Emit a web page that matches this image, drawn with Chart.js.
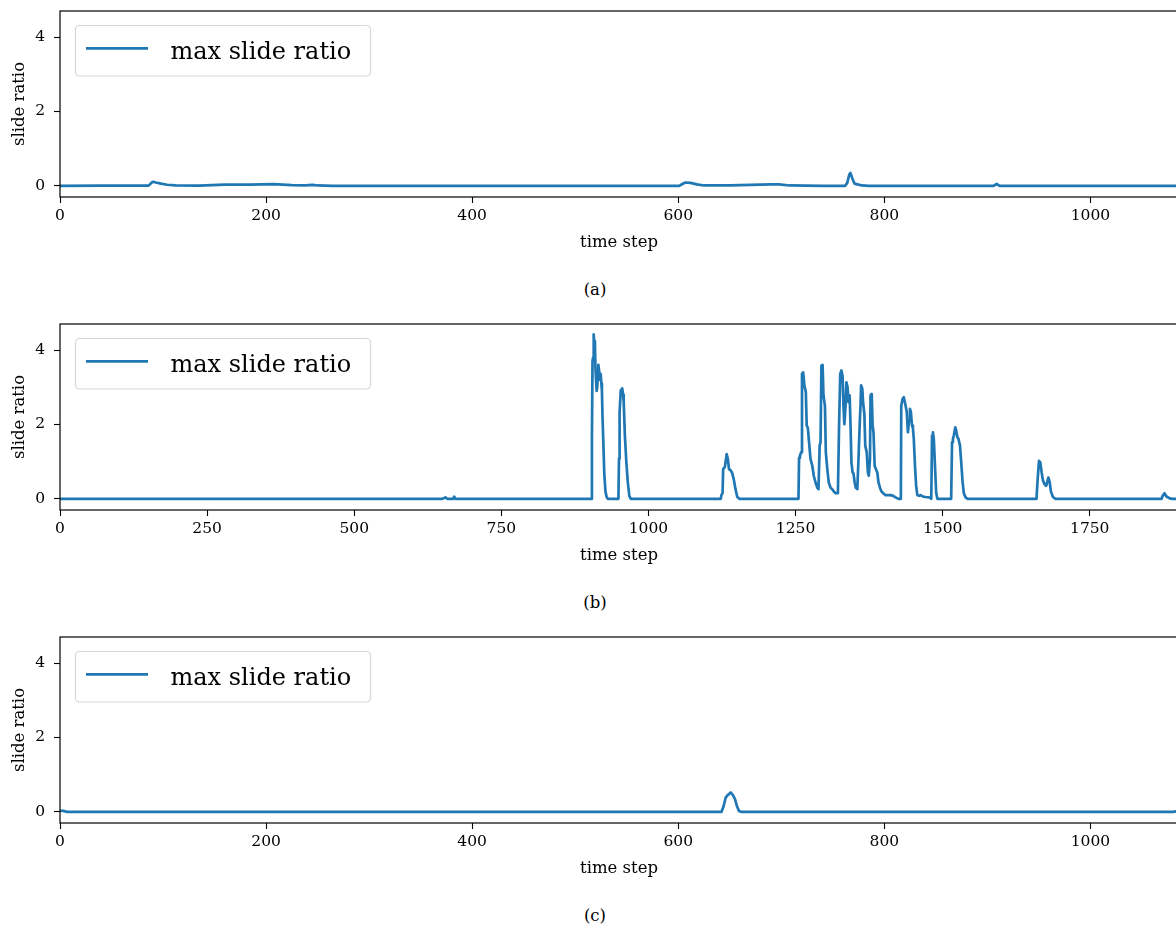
<!DOCTYPE html>
<html>
<head>
<meta charset="utf-8">
<script src="https://cdn.jsdelivr.net/npm/chart.js@4.4.1/dist/chart.umd.min.js"></script>
<style>
  html, body { margin: 0; padding: 0; background: #fff; }
  body { width: 1176px; height: 927px; overflow: hidden; position: relative; }
  canvas { position: absolute; left: 0; }
  .caption {
    position: absolute; width: 40px; text-align: center;
    font-family: "DejaVu Serif", serif; font-size: 16.5px; line-height: 20px; color: #000;
  }
</style>
</head>
<body>
<canvas id="panelA" width="1180" height="262" style="top:0px"></canvas>
<div class="caption" style="left:575px;top:280px">(a)</div>
<canvas id="panelB" width="1180" height="262" style="top:313px"></canvas>
<div class="caption" style="left:575px;top:593px">(b)</div>
<canvas id="panelC" width="1180" height="262" style="top:626px"></canvas>
<div class="caption" style="left:575px;top:906px">(c)</div>

<script>
// run (a)
const stepsA = [0, 40, 86, 88, 90, 93, 98, 104, 112, 135, 160, 185, 207, 225, 238, 245, 250, 265,
  601, 604, 607, 612, 618, 625, 650, 690, 698, 708, 740, 762, 764, 766, 767, 769, 771, 774, 778, 785,
  906, 909, 912, 1085];
const ratioA = [0, 0.005, 0.005, 0.06, 0.11, 0.09, 0.06, 0.03, 0.01, 0.005, 0.03, 0.03, 0.045, 0.02, 0.01, 0.025, 0.01, 0,
  0, 0.05, 0.09, 0.08, 0.04, 0.01, 0.015, 0.04, 0.04, 0.01, 0, 0, 0.08, 0.3, 0.35, 0.2, 0.06, 0.04, 0.01, 0,
  0, 0.05, 0, 0];

// run (b)
const stepsB = [0, 650, 655, 658, 668, 670, 672,
  903, 904, 905, 906, 907, 908, 909, 910, 912, 913, 915, 916, 918, 919, 920, 921, 922, 924, 925, 927, 929, 931,
  949, 950, 951, 953, 955.5, 957, 958, 960, 962.5, 965, 967.5, 970,
  1123, 1124, 1126, 1127, 1130, 1133, 1135, 1137, 1139.5, 1142, 1145, 1148, 1151, 1155,
  1255, 1256, 1257.5, 1259.5, 1261, 1263, 1265, 1267.5, 1269, 1271, 1273, 1275.5, 1278.5, 1281, 1284, 1287, 1289,
  1291, 1292.5, 1294, 1296, 1297.5, 1300, 1301.5, 1304, 1306.5, 1309.5, 1312.5, 1315, 1318, 1322,
  1324, 1326, 1328, 1330, 1331.5, 1333, 1335, 1336.5, 1338.5, 1340, 1342, 1343.5, 1345, 1347, 1348.5, 1350.5, 1352.5, 1355,
  1357, 1359, 1360.5, 1361.5, 1363.5, 1365, 1367, 1368.5, 1371, 1373, 1374.5,
  1376.5, 1377.5, 1379.5, 1381, 1382.5, 1384.5, 1386.5, 1389, 1391, 1393.5, 1396, 1399, 1403, 1407, 1411.5, 1416, 1420, 1425,
  1429, 1429.7, 1432, 1434, 1436.5, 1439, 1441, 1443, 1444.5, 1446, 1448, 1449.5, 1451, 1453, 1455, 1457,
  1460, 1462.5, 1467, 1471, 1477, 1479.5, 1480.7, 1482, 1483.5, 1485, 1487, 1489, 1491,
  1514.5, 1516, 1517.5, 1519, 1521.5, 1523, 1525, 1527, 1529.5, 1532, 1534, 1536, 1539, 1542,
  1659.5, 1661.5, 1663.8, 1666, 1668.3, 1670.6, 1673, 1676, 1679.7, 1682, 1684, 1687.5, 1692,
  1872, 1874, 1877, 1880, 1885, 1890, 1900];
const ratioB = [0, 0, 0.04, 0, 0, 0.06, 0,
  0, 1.65, 3.7, 3.8, 4.42, 4.1, 4.25, 3.5, 2.9, 3.0, 3.6, 3.6, 3.2, 3.35, 3.1, 2.9, 2.2, 1.2, 0.67, 0.2, 0.05, 0,
  0, 1.08, 2.33, 2.91, 2.97, 2.8, 2.6, 1.7, 0.98, 0.44, 0.08, 0,
  0, 0.1, 0.15, 0.8, 0.86, 1.2, 1.07, 0.8, 0.77, 0.71, 0.53, 0.26, 0.05, 0,
  0, 1.1, 1.16, 1.25, 3.36, 3.4, 3.05, 2.87, 1.97, 1.9, 1.52, 1.07, 0.89, 0.62, 0.44, 0.3, 0.26,
  1.43, 1.52, 3.58, 3.6, 2.78, 2.5, 1.25, 0.8, 0.44, 0.3, 0.26, 0.2, 0.15, 0.15,
  1.97, 3.36, 3.45, 3.3, 2.5, 2.01, 2.5, 3.13, 2.99, 2.6, 2.78, 1.97, 0.98, 0.71, 0.69, 0.44, 0.3, 0.26,
  1.07, 1.97, 2.55, 3.05, 2.96, 2.55, 2.28, 1.43, 1.25, 0.71, 0.62,
  1.07, 2.78, 2.82, 1.97, 1.79, 0.89, 0.8, 0.71, 0.44, 0.3, 0.2, 0.15, 0.1, 0.1, 0.1, 0.08, 0.04, 0,
  0, 2.5, 2.69, 2.73, 2.55, 2.34, 1.79, 2.1, 2.42, 2.34, 1.97, 1.9, 1.61, 0.89, 0.35, 0.1,
  0.08, 0.1, 0.06, 0.05, 0.04, 0.02, 0, 1.7, 1.79, 1.61, 0.89, 0.17, 0,
  0, 1.52, 1.61, 1.7, 1.92, 1.84, 1.66, 1.61, 1.43, 0.89, 0.44, 0.15, 0.04, 0,
  0, 0.53, 1.02, 0.98, 0.71, 0.49, 0.4, 0.35, 0.57, 0.44, 0.2, 0.05, 0,
  0, 0.08, 0.15, 0.07, 0.02, 0, 0];

// run (c)
const stepsC = [0, 3, 7, 642, 644, 646, 648, 651, 653, 655, 657, 659, 661, 1080, 1085];
const ratioC = [0.03, 0.025, 0, 0, 0.15, 0.38, 0.45, 0.52, 0.45, 0.35, 0.15, 0.02, 0, 0, 0.02];

const xTicksShort = [0, 200, 400, 600, 800, 1000];
const xTicksLong = [0, 250, 500, 750, 1000, 1250, 1500, 1750];
const yTicks = [0, 2, 4];

const LINE_COLOR = "#1f77b4";
const LINE_WIDTH = 2.7;
const SERIF = '"DejaVu Serif", serif';

function roundRectPath(ctx, x, y, w, h, r) {
  ctx.beginPath();
  ctx.moveTo(x + r, y);
  ctx.arcTo(x + w, y, x + w, y + h, r);
  ctx.arcTo(x + w, y + h, x, y + h, r);
  ctx.arcTo(x, y + h, x, y, r);
  ctx.arcTo(x, y, x + w, y, r);
  ctx.closePath();
}

// legend box in the upper left corner plus the axes frame
const framePlugin = {
  id: "axesFrame",
  afterDatasetsDraw(chart) {
    const { ctx, chartArea: a } = chart;
    ctx.save();
    roundRectPath(ctx, a.left + 15.5, a.top + 14.5, 295, 50.5, 4);
    ctx.fillStyle = "rgba(255,255,255,0.8)";
    ctx.fill();
    ctx.strokeStyle = "rgba(204,204,204,0.8)";
    ctx.lineWidth = 1.2;
    ctx.stroke();

    ctx.beginPath();
    ctx.moveTo(a.left + 26, a.top + 37.3);
    ctx.lineTo(a.left + 88, a.top + 37.3);
    ctx.strokeStyle = LINE_COLOR;
    ctx.lineWidth = LINE_WIDTH;
    ctx.stroke();

    ctx.font = "24px " + SERIF;
    ctx.fillStyle = "#000";
    ctx.textBaseline = "alphabetic";
    ctx.textAlign = "left";
    ctx.fillText(chart.data.datasets[0].label, a.left + 110.5, a.top + 48);
    ctx.restore();
  },
  afterDraw(chart) {
    const { ctx, chartArea: a } = chart;
    ctx.save();
    ctx.strokeStyle = "#000";
    ctx.lineWidth = 1.2;
    ctx.strokeRect(a.left, a.top, a.right - a.left, a.bottom - a.top);
    ctx.restore();
  },
};

function makePanel(id, steps, ratios, xMax, xTicks) {
  const ctx = document.getElementById(id);
  return new Chart(ctx, {
    type: "line",
    data: {
      datasets: [
        {
          label: "max slide ratio",
          data: steps.map((t, i) => ({ x: t, y: ratios[i] })),
          borderColor: LINE_COLOR,
          borderWidth: LINE_WIDTH,
          borderJoinStyle: "round",
          borderCapStyle: "round",
          pointRadius: 0,
          tension: 0,
          fill: false,
        },
      ],
    },
    options: {
      responsive: false,
      animation: false,
      devicePixelRatio: 1,
      layout: { padding: { top: 11, right: 2, bottom: 0, left: 0 } },
      plugins: { legend: { display: false }, tooltip: { enabled: false } },
      scales: {
        x: {
          type: "linear",
          min: 0,
          max: xMax,
          afterBuildTicks: (s) => { s.ticks = xTicks.map((v) => ({ value: v })); },
          afterFit: (s) => { s.height = 65; s.paddingLeft = 0; s.paddingRight = 0; },
          grid: { drawOnChartArea: false, drawTicks: true, tickLength: 6, tickWidth: 1.1, tickColor: "#000" },
          border: { display: false },
          ticks: {
            color: "#000",
            font: { family: SERIF, size: 15.5 },
            padding: 4,
            maxRotation: 0,
            autoSkip: false,
            callback: (v) => String(v),
          },
          title: {
            display: true,
            text: "time step",
            color: "#000",
            font: { family: SERIF, size: 16.5 },
            padding: { top: 0, bottom: 9.3 },
          },
        },
        y: {
          min: -0.3,
          max: 4.7,
          afterBuildTicks: (s) => { s.ticks = yTicks.map((v) => ({ value: v })); },
          afterFit: (s) => { s.width = 60; s.paddingTop = 0; s.paddingBottom = 0; },
          grid: { drawOnChartArea: false, drawTicks: true, tickLength: 6, tickWidth: 1.1, tickColor: "#000" },
          border: { display: false },
          ticks: {
            color: "#000",
            font: { family: SERIF, size: 15.5 },
            padding: 9,
            callback: (v) => String(v),
          },
          title: {
            display: true,
            text: "slide ratio",
            color: "#000",
            font: { family: SERIF, size: 16.5 },
            padding: { top: 9.4, bottom: 0 },
          },
        },
      },
    },
    plugins: [framePlugin],
  });
}

makePanel("panelA", stepsA, ratioA, 1085, xTicksShort);
makePanel("panelB", stepsB, ratioB, 1900, xTicksLong);
makePanel("panelC", stepsC, ratioC, 1085, xTicksShort);
</script>
</body>
</html>
